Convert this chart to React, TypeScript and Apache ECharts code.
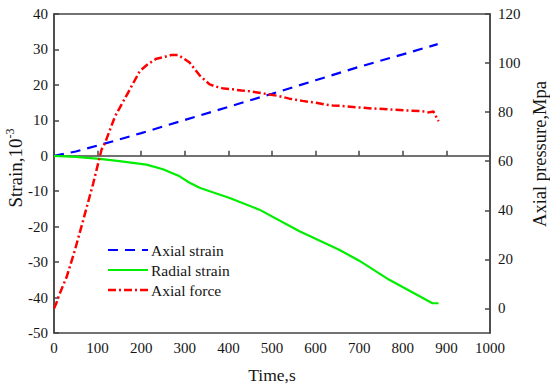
import React, { useEffect, useRef } from "react";
import * as echarts from "echarts";

const axialTime = [0, 50, 100, 150, 200, 300, 400, 500, 600, 700, 800, 880];
const axialStrain = [0, 1.2, 2.9, 4.6, 6.4, 10.1, 13.8, 17.5, 21.3, 25.1, 28.6, 31.5];

const radialTime = [0, 50, 105, 150, 212, 250, 288, 311, 334, 357, 403, 471, 563, 654, 700, 769, 868, 882];
const radialStrain = [0, -0.3, -0.85, -1.5, -2.5, -3.8, -5.8, -7.6, -9.0, -10.0, -11.9, -15.2, -21.3, -26.5, -29.6, -35.0, -41.6, -41.6];

const forceTime = [0, 5, 10, 20, 29, 48, 67, 90, 109, 117, 140, 174, 197, 215, 235, 255, 269, 284, 295, 311, 334, 357, 372, 390, 410, 430, 449, 470, 494, 515, 540, 570, 601, 620, 639, 662, 693, 731, 770, 807, 840, 860, 870, 876, 882];
const forcePressure = [0, 2, 4.6, 9, 12.8, 23.8, 36, 51, 64.7, 67.4, 78.3, 89.3, 96.8, 99.5, 101.8, 102.6, 103.3, 103.3, 102.2, 100.2, 95, 91.3, 90.4, 89.6, 89.3, 88.8, 88.5, 87.9, 87.2, 86.6, 85.5, 84.6, 83.8, 83.2, 82.7, 82.5, 82.0, 81.5, 81.1, 80.7, 80.5, 79.9, 80.3, 78.3, 76.3];

const xTicks = [0, 100, 200, 300, 400, 500, 600, 700, 800, 900, 1000];
const leftTicks = [-50, -40, -30, -20, -10, 0, 10, 20, 30, 40];
const rightTicks = [0, 20, 40, 60, 80, 100, 120];

const seriesNames = ["Axial strain", "Radial strain", "Axial force"];
const seriesColors = ["#0000ff", "#00ee00", "#ff0000"];
const seriesDash: (number[] | null)[] = [[10, 7], null, [8, 3, 2, 3]];

const FONT = "Liberation Serif";
const AXIS_COLOR = "#444";
const TEXT_COLOR = "#151515";

const zip = (a: number[], b: number[]) => a.map((t, i) => [t, b[i]]);

export default function App() {
  const ref = useRef<HTMLDivElement>(null);
  useEffect(() => {
    if (!ref.current) return;
    const chart = echarts.init(ref.current, undefined, { renderer: "svg" });
    const axisLine = { show: true, lineStyle: { color: AXIS_COLOR, width: 1.5 } };
    const axisTick = { show: true, inside: true, length: 5, lineStyle: { color: AXIS_COLOR, width: 1.5 } };

    chart.setOption({
      animation: false,
      textStyle: { fontFamily: FONT },
      grid: {
        left: 54,
        right: 60,
        top: 14,
        bottom: 56,
        show: true,
        borderColor: AXIS_COLOR,
        borderWidth: 1.5,
        backgroundColor: "transparent",
      },
      xAxis: {
        type: "value",
        min: 0,
        max: 1000,
        interval: 100,
        axisLine,
        axisTick,
        splitLine: { show: false },
        axisLabel: { show: false },
      },
      yAxis: [
        {
          type: "value",
          min: -50,
          max: 40,
          interval: 10,
          position: "left",
          axisLine,
          axisTick,
          splitLine: { show: false },
          axisLabel: { show: false },
        },
        {
          type: "value",
          min: -10,
          max: 120,
          position: "right",
          axisLine,
          axisTick: { ...axisTick, customValues: rightTicks },
          splitLine: { show: false },
          axisLabel: { show: false },
        },
      ],
      series: seriesNames.map((name, i) => ({
        name,
        type: "line",
        yAxisIndex: i === 2 ? 1 : 0,
        data: i === 0 ? zip(axialTime, axialStrain) : i === 1 ? zip(radialTime, radialStrain) : zip(forceTime, forcePressure),
        symbol: "none",
        color: seriesColors[i],
        lineStyle: { color: seriesColors[i], width: i === 2 ? 2.5 : 2.2, type: seriesDash[i] || "solid" },
      })),
    });

    const graphics: any[] = [];
    const label = (text: string, x: number, y: number, align: string, verticalAlign: string) => ({
      type: "text",
      x,
      y,
      silent: true,
      style: { text, align, verticalAlign, fontFamily: FONT, fontSize: 15, fill: TEXT_COLOR },
    });

    const xLeft = chart.convertToPixel({ xAxisIndex: 0 }, 0) as number;
    const xRight = chart.convertToPixel({ xAxisIndex: 0 }, 1000) as number;
    const yBottom = chart.convertToPixel({ yAxisIndex: 0 }, -50) as number;

    xTicks.forEach((v) => {
      const px = chart.convertToPixel({ xAxisIndex: 0 }, v) as number;
      graphics.push(label(String(v), px, yBottom + 7, "center", "top"));
    });
    leftTicks.forEach((v) => {
      const py = chart.convertToPixel({ yAxisIndex: 0 }, v) as number;
      graphics.push(label(String(v), xLeft - 6, py, "right", "middle"));
    });
    rightTicks.forEach((v) => {
      const py = chart.convertToPixel({ yAxisIndex: 1 }, v) as number;
      graphics.push(label(String(v), xRight + 8, py, "left", "middle"));
    });

    seriesNames.forEach((name, i) => {
      const y = 250 + i * 20;
      graphics.push({
        type: "line",
        shape: { x1: 108, y1: y, x2: 148, y2: y },
        style: {
          stroke: seriesColors[i],
          lineWidth: i === 2 ? 2.5 : 2.2,
          lineDash: seriesDash[i] || undefined,
        },
      });
      graphics.push({
        type: "text",
        x: 151,
        y,
        style: {
          text: name,
          align: "left",
          verticalAlign: "middle",
          fontFamily: FONT,
          fontSize: 15.5,
          fill: TEXT_COLOR,
        },
      });
    });

    graphics.push(
      {
        type: "text",
        x: 15,
        y: 168,
        rotation: Math.PI / 2,
        style: {
          text: "{a|Strain,10}{b|-3}",
          align: "center",
          verticalAlign: "middle",
          rich: {
            a: { fontFamily: FONT, fontSize: 19, fill: TEXT_COLOR, lineHeight: 22 },
            b: { fontFamily: FONT, fontSize: 12, fill: TEXT_COLOR, verticalAlign: "top", lineHeight: 22 },
          },
        },
      },
      {
        type: "text",
        x: 540,
        y: 154,
        rotation: Math.PI / 2,
        style: {
          text: "Axial pressure,Mpa",
          align: "center",
          verticalAlign: "middle",
          fontFamily: FONT,
          fontSize: 18.5,
          fill: TEXT_COLOR,
        },
      },
      {
        type: "text",
        x: 272,
        y: 375,
        style: {
          text: "Time,s",
          align: "center",
          verticalAlign: "middle",
          fontFamily: FONT,
          fontSize: 17.5,
          fill: TEXT_COLOR,
        },
      }
    );

    chart.setOption({ graphic: graphics });
    return () => chart.dispose();
  }, []);
  return <div ref={ref} style={{ width: 550, height: 389, position: "absolute", left: 0, top: 0 }} />;
}
